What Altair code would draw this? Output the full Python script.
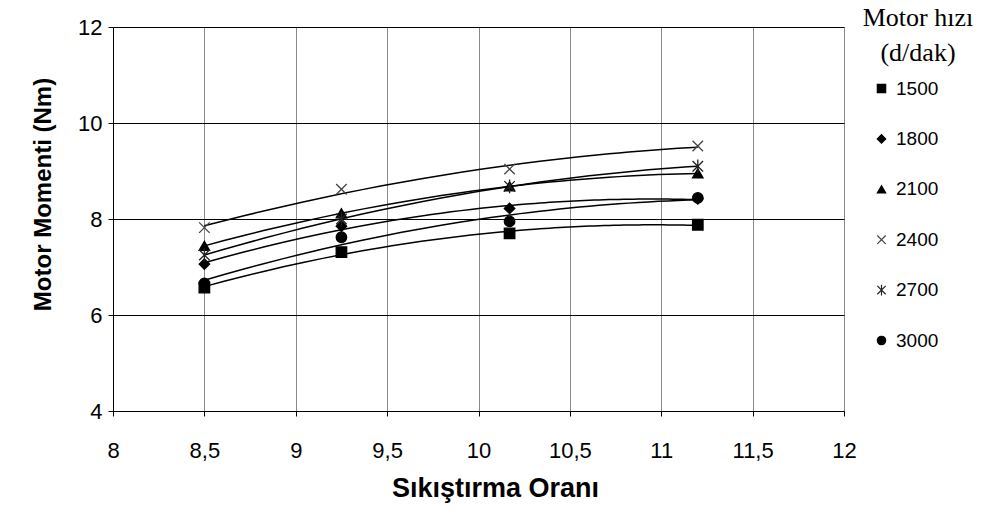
import altair as alt
import pandas as pd

# Compression ratios (x values)
ratios = [8.5, 9.25, 10.17, 11.2]
speeds = ["1500", "1800", "2100", "2400", "2700", "3000"]

torque_1500 = [6.57, 7.31, 7.70, 7.88]
torque_1800 = [7.06, 7.85, 8.22, 8.42]
torque_2100 = [7.44, 8.12, 8.68, 8.95]
torque_2400 = [7.82, 8.62, 9.04, 9.52]
torque_2700 = [7.25, 8.00, 8.68, 9.10]
torque_3000 = [6.66, 7.62, 7.95, 8.44]

series = [torque_1500, torque_1800, torque_2100, torque_2400, torque_2700, torque_3000]
rows = []
for sp, vals in zip(speeds, series):
    for r, v in zip(ratios, vals):
        rows.append({"ratio": r, "torque": v, "speed": sp})
df = pd.DataFrame(rows)

shape_range = [
    "square",
    "diamond",
    "triangle-up",
    "M-1,-1L1,1M1,-1L-1,1",
    "M-1,-1L1,1M1,-1L-1,1M0,-1.3L0,1.3",
    "circle",
]
fill_range = ["black", "black", "black", "transparent", "transparent", "black"]
stroke_range = ["black", "black", "black", "#444444", "#222222", "black"]

legend = alt.Legend(
    title=None,
    orient="none",
    legendX=759,
    legendY=52,
    padding=0,
    labelFont="Liberation Sans",
    labelFontSize=19,
    labelColor="black",
    labelOffset=5,
    symbolSize=70,
    symbolStrokeWidth=1.2,
    rowPadding=30.4,
)

xenc = alt.X(
    "ratio:Q",
    scale=alt.Scale(domain=[8, 12], nice=False, zero=False),
    axis=alt.Axis(
        values=[8, 8.5, 9, 9.5, 10, 10.5, 11, 11.5, 12],
        labelExpr="replace(format(datum.value, '~g'), '.', ',')",
        title="Sıkıştırma Oranı",
        titleFont="Liberation Sans",
        titleFontSize=27,
        titleFontWeight="bold",
        titleColor="black",
        titlePadding=14,
        titleX=382,
        labelFont="Liberation Sans",
        labelFontSize=22,
        labelColor="black",
        labelPadding=24,
        labelFlush=False,
        domainColor="black",
        tickColor="black",
        tickSize=5,
        grid=True,
        gridColor="#8a8a8a",
        gridWidth=1,
    ),
)
yenc = alt.Y(
    "torque:Q",
    scale=alt.Scale(domain=[4, 12], nice=False, zero=False),
    axis=alt.Axis(
        values=[4, 6, 8, 10, 12],
        title="Motor  Momenti (Nm)",
        titleFont="Liberation Sans",
        titleFontSize=24,
        titleFontWeight="bold",
        titleColor="black",
        titlePadding=22,
        titleY=167,
        labelFont="Liberation Sans",
        labelFontSize=22,
        labelColor="black",
        labelPadding=6,
        labelFlush=False,
        domainColor="black",
        tickColor="black",
        tickSize=5,
        grid=True,
        gridColor="black",
        gridWidth=1,
    ),
)

base = alt.Chart(df)

lines = base.transform_regression(
    "ratio", "torque", method="poly", order=2, groupby=["speed"]
).mark_line(color="black", strokeWidth=1.5).encode(
    x=xenc, y=yenc, detail="speed:N"
)

points = base.mark_point(opacity=1, strokeWidth=1.3, size=110).encode(
    x=alt.X("ratio:Q"),
    y=alt.Y("torque:Q"),
    shape=alt.Shape("speed:N", scale=alt.Scale(domain=speeds, range=shape_range), legend=legend),
    fill=alt.Fill("speed:N", scale=alt.Scale(domain=speeds, range=fill_range), legend=legend),
    stroke=alt.Stroke("speed:N", scale=alt.Scale(domain=speeds, range=stroke_range), legend=legend),
)

legend_title = alt.Chart(alt.Data(values=[{}])).mark_text(
    text=["Motor hızı", "(d/dak)"],
    font="Liberation Serif",
    fontSize=26,
    lineHeight=35,
    align="center",
    baseline="top",
    color="black",
).encode(x=alt.value(805), y=alt.value(-22))

chart = alt.layer(lines, points, legend_title).properties(
    width=731,
    height=384,
    autosize=alt.AutoSizeParams(type="none"),
    padding={"left": 113, "top": 27, "right": 146, "bottom": 106},
).configure_view(stroke=None).configure(background="white")

chart.save("out.html", embed_options={"renderer": "svg", "actions": False})
